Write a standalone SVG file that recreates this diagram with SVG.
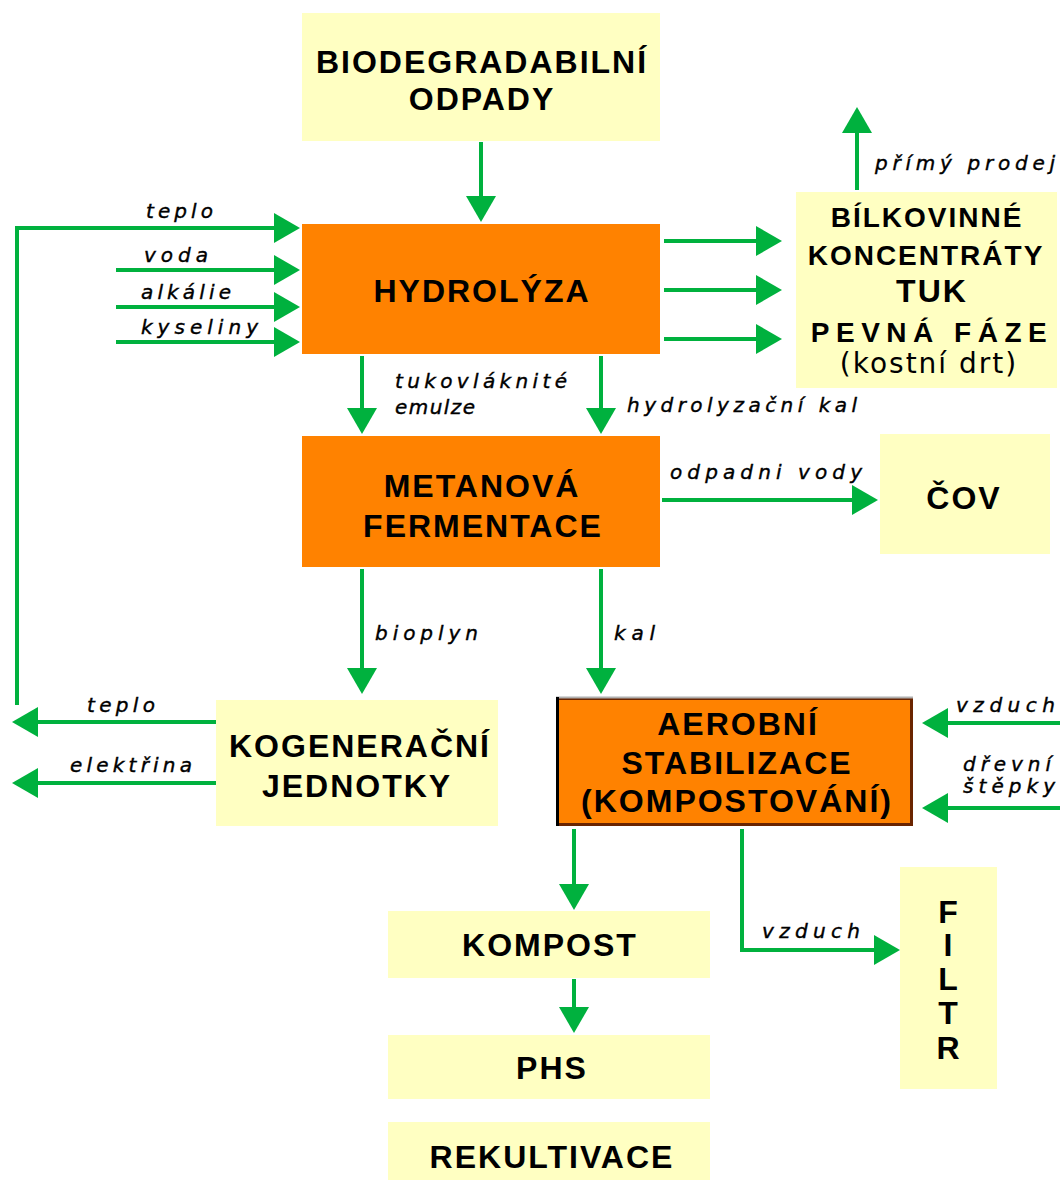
<svg xmlns="http://www.w3.org/2000/svg" width="1060" height="1180" viewBox="0 0 1060 1180">
<style>
.y{fill:#FFFFC2}
.o{fill:#FF8200}
.t{font-family:"Liberation Sans",Arial,sans-serif;font-weight:bold;font-size:32px;letter-spacing:2px;fill:#000;text-anchor:middle}
.s{font-size:28px}
.r{font-family:"DejaVu Sans",sans-serif;font-weight:normal;font-size:28px;letter-spacing:1px}
.l{font-family:"DejaVu Sans",sans-serif;font-style:italic;font-size:20px;fill:#000;stroke:#000;stroke-width:0.4}
.c{fill:none;stroke:#00B13E;stroke-width:4;marker-end:url(#ah)}
</style>
<defs>
<marker id="ah" markerUnits="userSpaceOnUse" markerWidth="26" markerHeight="30" refX="16" refY="15" orient="auto">
<path d="M0,0 L26,15 L0,30 Z" fill="#00B13E"/>
</marker>
</defs>
<rect width="1060" height="1180" fill="#fff"/>

<g id="biodegradabilni">
<rect class="y" x="302" y="13" width="358" height="128"/>
<text class="t" x="482" y="73">BIODEGRADABILNÍ</text>
<text class="t" x="482" y="110">ODPADY</text>
</g>
<g id="hydrolyza">
<rect class="o" x="302" y="224" width="358" height="130"/>
<text class="t" x="482" y="302">HYDROLÝZA</text>
</g>
<g id="bilkoviny">
<rect class="y" x="796" y="192" width="261" height="196"/>
<text class="t s" x="927" y="227">BÍLKOVINNÉ</text>
<text class="t s" x="926" y="265">KONCENTRÁTY</text>
<text class="t" x="932" y="302">TUK</text>
<text class="t s" x="932" y="342" style="letter-spacing:6.5px">PEVNÁ FÁZE</text>
<text class="t r" x="929" y="373" style="letter-spacing:2px">(kostní drt)</text>
</g>
<g id="metanova">
<rect class="o" x="302" y="436" width="358" height="131"/>
<text class="t" x="482" y="497">METANOVÁ</text>
<text class="t" x="483" y="537">FERMENTACE</text>
</g>
<g id="cov">
<rect class="y" x="880" y="434" width="170" height="120"/>
<text class="t" x="964" y="509">ČOV</text>
</g>
<g id="kogeneracni">
<rect class="y" x="216" y="700" width="282" height="126"/>
<text class="t" x="360" y="757">KOGENERAČNÍ</text>
<text class="t" x="357" y="797">JEDNOTKY</text>
</g>
<g id="aerobni">
<rect class="o" x="557.5" y="698.5" width="354" height="126" stroke="#6A2400" stroke-width="3"/>
<line x1="556" y1="697.5" x2="913" y2="697.5" stroke="#b0b0b0" stroke-width="2"/>
<line x1="557.5" y1="697" x2="557.5" y2="826" stroke="#000" stroke-width="3"/>
<text class="t" x="738" y="735">AEROBNÍ</text>
<text class="t" x="737" y="774">STABILIZACE</text>
<text class="t" x="737" y="812">(KOMPOSTOVÁNÍ)</text>
</g>
<g id="filtr">
<rect class="y" x="900" y="867" width="97" height="222"/>
<text class="t" x="949" y="923">F</text>
<text class="t" x="949" y="956">I</text>
<text class="t" x="949" y="990">L</text>
<text class="t" x="949" y="1024">T</text>
<text class="t" x="949" y="1059">R</text>
</g>
<g id="kompost">
<rect class="y" x="388" y="911" width="322" height="67"/>
<text class="t" x="550" y="956">KOMPOST</text>
</g>
<g id="phs">
<rect class="y" x="388" y="1035" width="322" height="64"/>
<text class="t" x="552" y="1079">PHS</text>
</g>
<g id="rekultivace">
<rect class="y" x="388" y="1122" width="322" height="58"/>
<text class="t" x="552" y="1168">REKULTIVACE</text>
</g>

<g id="connectors">
<path class="c" d="M481 142 V212"/>
<path class="c" d="M17 705 V228 H290"/>
<path class="c" d="M116 270 H290"/>
<path class="c" d="M116 307 H290"/>
<path class="c" d="M116 342 H290"/>
<path class="c" d="M664 241 H772"/>
<path class="c" d="M664 290 H772"/>
<path class="c" d="M664 339 H772"/>
<path class="c" d="M857 190 V117"/>
<path class="c" d="M362 356 V424"/>
<path class="c" d="M601 356 V424"/>
<path class="c" d="M662 500 H868"/>
<path class="c" d="M362 569 V684"/>
<path class="c" d="M601 569 V684"/>
<path class="c" d="M216 722 H22"/>
<path class="c" d="M216 783 H22"/>
<path class="c" d="M1060 723 H932"/>
<path class="c" d="M1060 808 H932"/>
<path class="c" d="M574 829 V900"/>
<path class="c" d="M742 829 V950 H890"/>
<path class="c" d="M574 979 V1023"/>

<text class="l" x="146" y="218" textLength="67" lengthAdjust="spacing">teplo</text>
<text class="l" x="144" y="262" textLength="64" lengthAdjust="spacing">voda</text>
<text class="l" x="141" y="299" textLength="90" lengthAdjust="spacing">alkálie</text>
<text class="l" x="141" y="334" textLength="117" lengthAdjust="spacing">kyseliny</text>
<text class="l" x="875" y="170" textLength="180" lengthAdjust="spacing">přímý prodej</text>
<text class="l" x="395" y="388" textLength="172" lengthAdjust="spacing">tukovláknité</text>
<text class="l" x="395" y="414" textLength="80" lengthAdjust="spacing">emulze</text>
<text class="l" x="627" y="412" textLength="230" lengthAdjust="spacing">hydrolyzační kal</text>
<text class="l" x="670" y="479" textLength="192" lengthAdjust="spacing">odpadni vody</text>
<text class="l" x="375" y="640" textLength="103" lengthAdjust="spacing">bioplyn</text>
<text class="l" x="614" y="640" textLength="41" lengthAdjust="spacing">kal</text>
<text class="l" x="87" y="712" textLength="68" lengthAdjust="spacing">teplo</text>
<text class="l" x="70" y="772" textLength="122" lengthAdjust="spacing">elektřina</text>
<text class="l" x="956" y="712" textLength="99" lengthAdjust="spacing">vzduch</text>
<text class="l" x="963" y="771" textLength="88" lengthAdjust="spacing">dřevní</text>
<text class="l" x="963" y="793" textLength="92" lengthAdjust="spacing">štěpky</text>
<text class="l" x="762" y="938" textLength="98" lengthAdjust="spacing">vzduch</text>
</g>
</svg>
